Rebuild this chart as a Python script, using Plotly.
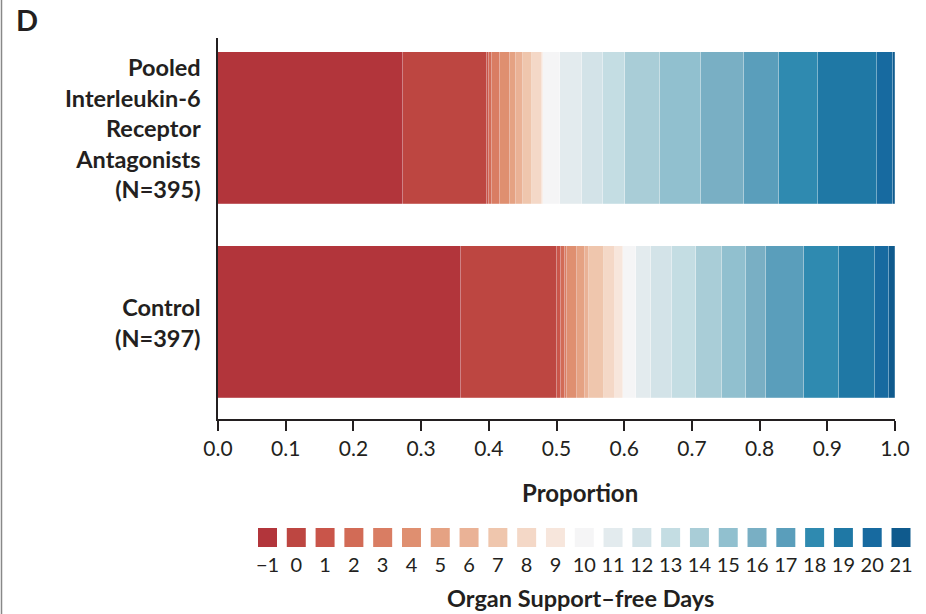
import plotly.graph_objects as go

# ---- data ----
groups = ["Pooled<br>Interleukin-6<br>Receptor<br>Antagonists<br>(N=395)", "Control<br>(N=397)"]
days = [-1, 0, 1, 2, 3, 4, 5, 6, 7, 8, 9, 10, 11, 12, 13, 14, 15, 16, 17, 18, 19, 20, 21]
day_labels = ["\u22121", "0", "1", "2", "3", "4", "5", "6", "7", "8", "9", "10",
              "11", "12", "13", "14", "15", "16", "17", "18", "19", "20", "21"]
pooled = [0.273, 0.125, 0.002, 0.005, 0.0115, 0.0155, 0.008, 0.011, 0.013, 0.014, 0.002,
          0.025, 0.032, 0.031, 0.033, 0.052, 0.061, 0.063, 0.052, 0.057, 0.088, 0.0226, 0.0034]
control = [0.3585, 0.1425, 0.005, 0.006, 0.003, 0.016, 0.0115, 0.005, 0.0225, 0.017, 0.011,
           0.019, 0.022, 0.031, 0.036, 0.038, 0.036, 0.029, 0.057, 0.052, 0.052, 0.0216, 0.0084]
colors = ["#b2353b", "#bd4641", "#c9554a", "#d26b56", "#d97d63", "#df8f70", "#e5a283",
          "#eab296", "#efc6ad", "#f4d8c7", "#f7e6dc", "#f5f5f6", "#e3ebee", "#d3e3e8",
          "#c4dde3", "#a9cdd7", "#91c0cf", "#79afc4", "#5a9ebb", "#2f8ab0", "#1f78a5",
          "#176aa0", "#0f5a8d"]
x_ticks = [0.0, 0.1, 0.2, 0.3, 0.4, 0.5, 0.6, 0.7, 0.8, 0.9, 1.0]
x_ticktext = ["0.0", "0.1", "0.2", "0.3", "0.4", "0.5", "0.6", "0.7", "0.8", "0.9", "1.0"]
x_title = "Proportion"
key_title = "Organ Support\u2013free Days"
panel = "D"

FONT = "Lato"
INK = "#231f20"
W, H = 926, 614
ML, MR, MT, MB = 218, 10, 38, 10
PW, PH = W - ML - MR, H - MT - MB

def px_x(p):
    return (p - ML) / PW

def px_y(p):
    return (H - MB - p) / PH

fig = go.Figure()
y_pos = [1, 0]
for i, d in enumerate(days):
    fig.add_trace(go.Bar(
        x=[pooled[i], control[i]], y=y_pos, orientation="h",
        marker=dict(color=colors[i], line=dict(color="rgba(255,255,255,0.35)", width=0.6)),
        width=0.7835, showlegend=False, hoverinfo="x+name", name=day_labels[i],
        xaxis="x", yaxis="y"))

# key (legend) as a scatter on its own axis
fig.add_trace(go.Scatter(
    x=days, y=[0] * len(days), mode="markers",
    marker=dict(symbol="square", size=19, color=colors, line=dict(width=0)),
    xaxis="x2", yaxis="y2", showlegend=False, hoverinfo="skip", cliponaxis=False))

main_top = px_y(38)
main_bot = px_y(419)
fig.update_layout(
    width=W, height=H,
    margin=dict(l=ML, r=MR, t=MT, b=MB, autoexpand=False),
    paper_bgcolor="white", plot_bgcolor="white",
    barmode="stack", bargap=0,
    font=dict(family=FONT, color=INK),
    xaxis=dict(domain=[0, px_x(895)], range=[0, 1], tickvals=x_ticks, ticktext=x_ticktext,
               showline=True, linecolor=INK, linewidth=1.5, ticks="outside",
               ticklen=10, tickwidth=1.5, tickcolor=INK, showgrid=False, zeroline=False,
               tickfont=dict(size=21, family=FONT, color=INK), anchor="y", automargin=False),
    yaxis=dict(domain=[main_bot, main_top], range=[-0.4948 - 1 / 194, 1.4639], showline=True,
               linecolor=INK, linewidth=1.5, showticklabels=False, ticks="",
               showgrid=False, zeroline=False, anchor="x", automargin=False),
    xaxis2=dict(domain=[px_x(253), px_x(915)], range=[-1.503, 21.486], tickvals=days,
                ticktext=day_labels, showline=False, showgrid=False, zeroline=False,
                ticks="", tickfont=dict(size=20, family=FONT, color=INK), anchor="y2",
                automargin=False),
    yaxis2=dict(domain=[px_y(551), px_y(524)], range=[-1, 1], visible=False, anchor="x2",
                automargin=False),
)

for g, yv in zip(groups, y_pos):
    fig.add_annotation(text="<b>" + g.replace("<br>", "</b><br><b>") + "</b>",
                       xref="paper", yref="y", x=px_x(203), y=yv,
                       xanchor="right", yanchor="middle", align="right", showarrow=False,
                       font=dict(size=23.5, family=FONT, color=INK))

fig.add_annotation(text="<b>" + x_title + "</b>", xref="paper", yref="paper",
                   x=px_x(580), y=px_y(493), xanchor="center", yanchor="middle",
                   showarrow=False, font=dict(size=24, family=FONT, color=INK))
fig.add_annotation(text="<b>" + key_title + "</b>", xref="paper", yref="paper",
                   x=px_x(580), y=px_y(598), xanchor="center", yanchor="middle",
                   showarrow=False, font=dict(size=23.5, family=FONT, color=INK))

fig.add_annotation(text="<b>" + panel + "</b>", xref="paper", yref="paper", x=px_x(14),
                   y=px_y(20), xanchor="left", yanchor="middle", showarrow=False,
                   font=dict(size=29, family=FONT, color=INK))

fig.add_shape(type="line", xref="paper", yref="paper", x0=px_x(1.5), x1=px_x(1.5),
              y0=px_y(0), y1=px_y(614), line=dict(color="#888888", width=1.5))

fig.write_html("out.html", config={"displayModeBar": False},
               post_script="document.body.style.margin='0';document.body.style.overflow='hidden';")
